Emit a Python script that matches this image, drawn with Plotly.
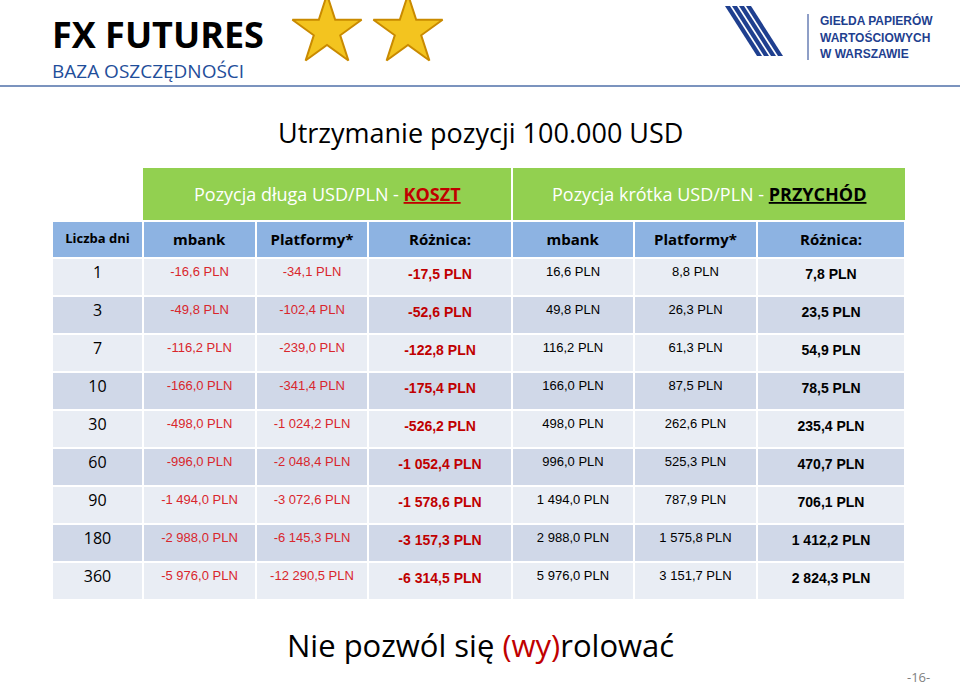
import plotly.graph_objects as go

days = ["1", "3", "7", "10", "30", "60", "90", "180", "360"]
long_mbank = ["-16,6 PLN", "-49,8 PLN", "-116,2 PLN", "-166,0 PLN", "-498,0 PLN", "-996,0 PLN", "-1 494,0 PLN", "-2 988,0 PLN", "-5 976,0 PLN"]
long_platf = ["-34,1 PLN", "-102,4 PLN", "-239,0 PLN", "-341,4 PLN", "-1 024,2 PLN", "-2 048,4 PLN", "-3 072,6 PLN", "-6 145,3 PLN", "-12 290,5 PLN"]
long_diff = ["-17,5 PLN", "-52,6 PLN", "-122,8 PLN", "-175,4 PLN", "-526,2 PLN", "-1 052,4 PLN", "-1 578,6 PLN", "-3 157,3 PLN", "-6 314,5 PLN"]
short_mbank = ["16,6 PLN", "49,8 PLN", "116,2 PLN", "166,0 PLN", "498,0 PLN", "996,0 PLN", "1 494,0 PLN", "2 988,0 PLN", "5 976,0 PLN"]
short_platf = ["8,8 PLN", "26,3 PLN", "61,3 PLN", "87,5 PLN", "262,6 PLN", "525,3 PLN", "787,9 PLN", "1 575,8 PLN", "3 151,7 PLN"]
short_diff = ["7,8 PLN", "23,5 PLN", "54,9 PLN", "78,5 PLN", "235,4 PLN", "470,7 PLN", "706,1 PLN", "1 412,2 PLN", "2 824,3 PLN"]
headers = ["Liczba dni", "mbank", "Platformy*", "Różnica:", "mbank", "Platformy*", "Różnica:"]

W, H = 960, 687
edges = [52, 143, 256, 368, 512, 634, 757, 905]
widths = [edges[i + 1] - edges[i] for i in range(7)]
row_bg = ["#e9edf4" if i % 2 == 0 else "#d0d8e8" for i in range(len(days))]

fig = go.Figure()

fig.add_trace(go.Table(
    domain=dict(x=[edges[0] / W, edges[-1] / W], y=[1 - 600 / H, 1 - 221 / H]),
    columnwidth=widths,
    header=dict(values=["<b>%s</b>" % h for h in headers], fill_color="#8db3e2",
                line=dict(color="white", width=2), height=37, align="center",
                font=dict(family="Open Sans", size=[13, 15, 15, 15, 15, 15, 15], color="black")),
    cells=dict(values=[days, long_mbank, long_platf, ["<b>%s</b>" % v for v in long_diff],
                       short_mbank, short_platf, ["<b>%s</b>" % v for v in short_diff]],
               fill_color=[row_bg] * 7, line=dict(color="white", width=2), height=38,
               align="center",
               font=dict(family=["Open Sans"] + ["Liberation Sans"] * 6,
                         size=[16, 13, 13, 14, 13, 13, 14],
                         color=["black", "#d9262c", "#d9262c", "#c00000", "black", "black", "black"])),
))

# invisible pixel-space axes for decorations
fig.add_trace(go.Scatter(x=[327, 408], y=[31, 31], mode="markers", hoverinfo="skip",
                         marker=dict(symbol="star", size=52, color="#f3c41f",
                                     line=dict(color="#c98a00", width=2))))

shapes = [
    dict(type="line", x0=0, x1=W, y0=86, y1=86, line=dict(color="#4f6fa8", width=1.5)),
    dict(type="rect", x0=143, x1=511, y0=168, y1=220, fillcolor="#92d050", line=dict(width=0)),
    dict(type="rect", x0=513, x1=905, y0=168, y1=220, fillcolor="#92d050", line=dict(width=0)),
    dict(type="line", x0=808, x1=808, y0=14, y1=60, line=dict(color="#1f3f8f", width=1)),
]
for k in range(4):
    shapes.append(dict(type="path", path="M %d 6 L %d 6 L %d 56 L %d 56 Z" % (725 + 7 * k, 730 + 7 * k, 762 + 7 * k, 757 + 7 * k),
                       fillcolor="#1f3f8f", line=dict(width=0)))

ann = [
    dict(x=50, y=34, text="<b>FX FUTURES</b>", font=dict(size=36, color="black", family="Open Sans"), xanchor="left"),
    dict(x=50, y=71, text="BAZA OSZCZĘDNOŚCI", font=dict(size=19, color="#1f4e9a", family="Open Sans"), xanchor="left"),
    dict(x=818, y=20, text="<b>GIEŁDA PAPIERÓW</b>", font=dict(size=12, color="#1f3f8f", family="Liberation Sans"), xanchor="left"),
    dict(x=818, y=37, text="<b>WARTOŚCIOWYCH</b>", font=dict(size=12, color="#1f3f8f", family="Liberation Sans"), xanchor="left"),
    dict(x=818, y=54, text="<b>W WARSZAWIE</b>", font=dict(size=12, color="#1f3f8f", family="Liberation Sans"), xanchor="left"),
    dict(x=480, y=132, text="Utrzymanie pozycji 100.000 USD", font=dict(size=27, color="black", family="Open Sans")),
    dict(x=327, y=194, text="Pozycja długa USD/PLN - <span style='color:#c00000'><b><u>KOSZT</u></b></span>",
         font=dict(size=18, color="white", family="Open Sans")),
    dict(x=709, y=194, text="Pozycja krótka USD/PLN - <span style='color:black'><b><u>PRZYCHÓD</u></b></span>",
         font=dict(size=18, color="white", family="Open Sans")),
    dict(x=480, y=645, text="Nie pozwól się <span style='color:#c00000'>(wy)</span>rolować",
         font=dict(size=31, color="black", family="Open Sans")),
    dict(x=918, y=677, text="-16-", font=dict(size=13, color="#7f7f7f", family="Open Sans")),
]
for a in ann:
    a.update(showarrow=False, xref="x", yref="y")

fig.update_layout(
    width=W, height=H, margin=dict(l=0, r=0, t=0, b=0),
    paper_bgcolor="white", plot_bgcolor="rgba(0,0,0,0)", showlegend=False,
    xaxis=dict(range=[0, W], visible=False, fixedrange=True),
    yaxis=dict(range=[H, 0], visible=False, fixedrange=True),
    shapes=shapes, annotations=ann,
)
fig.write_html("out.html", config={"displayModeBar": False},
               post_script="document.body.style.margin='0';")
